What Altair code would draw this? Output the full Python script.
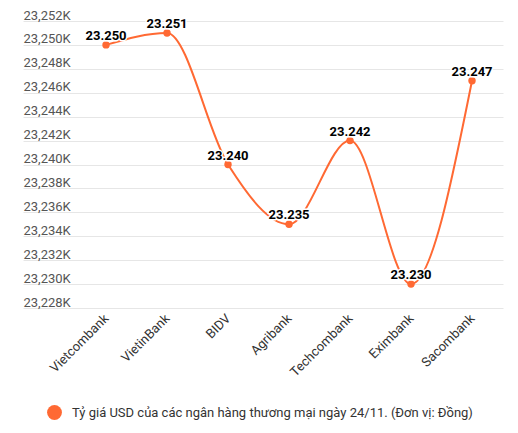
import altair as alt
import pandas as pd

banks = ["Vietcombank", "VietinBank", "BIDV", "Agribank", "Techcombank", "Eximbank", "Sacombank"]
rates = [23250, 23251, 23240, 23235, 23242, 23230, 23247]
series_name = "Tỷ giá USD của các ngân hàng thương mại ngày 24/11. (Đơn vị: Đồng)"
y_ticks = list(range(23228, 23253, 2))

df = pd.DataFrame({
    "idx": list(range(len(banks))),
    "bank": banks,
    "rate": rates,
    "series": [series_name] * len(banks),
})

ORANGE = "#ff6933"
FONT = "Roboto"

bank_lookup = "[" + ",".join("'" + b + "'" for b in banks) + "]"

x = alt.X(
    "idx:Q",
    scale=alt.Scale(domain=[-1.361, 6.508], nice=False, zero=False),
    axis=alt.Axis(
        values=list(range(len(banks))),
        labelExpr=bank_lookup + "[datum.value]",
        labelAngle=-45,
        labelAlign="right",
        labelBaseline="middle",
        labelPadding=8,
        labelFontSize=13,
        labelColor="#333333",
        labelFont=FONT,
        labelOverlap=False,
        labelBound=False,
        ticks=False,
        domain=False,
        grid=False,
        title=None,
    ),
)
y = alt.Y(
    "rate:Q",
    scale=alt.Scale(domain=[23228, 23252], nice=False, zero=False),
    axis=alt.Axis(
        values=y_ticks,
        labelExpr="format(datum.value, ',') + 'K'",
        labelAlign="left",
        labelBaseline="alphabetic",
        labelPadding=0,
        labelOffset=-2,
        tickSize=0,
        ticks=False,
        domain=False,
        grid=True,
        gridColor="#e6e6e6",
        gridWidth=1,
        labelFontSize=13,
        labelColor="#555555",
        labelFont=FONT,
        labelOverlap=False,
        labelBound=False,
        labelFlush=False,
        title=None,
    ),
)

color = alt.Color(
    "series:N",
    scale=alt.Scale(range=[ORANGE]),
    legend=alt.Legend(
        title=None,
        orient="none",
        legendX=24,
        legendY=384,
        symbolType="circle",
        symbolSize=220,
        symbolStrokeWidth=0,
        labelFontSize=13,
        labelFont=FONT,
        labelColor="#333333",
        labelLimit=600,
        padding=0,
        labelOffset=10,
    ),
)

base = alt.Chart(df).encode(x=x, y=y)

line = base.mark_line(interpolate="monotone", strokeWidth=2, color=ORANGE)
points = base.mark_circle(size=55, opacity=1).encode(color=color)

labels_df = base.transform_calculate(lbl="replace(format(datum.rate, ','), ',', '.')")
halo = labels_df.mark_text(
    dy=-5, baseline="alphabetic", fontSize=13, fontWeight="bold", font=FONT,
    stroke="white", strokeWidth=3, strokeJoin="round", fill="white",
).encode(text="lbl:N")
text = labels_df.mark_text(
    dy=-5, baseline="alphabetic", fontSize=13, fontWeight="bold", font=FONT, color="#000000",
).encode(text="lbl:N")

chart = (
    alt.layer(line, points, halo, text)
    .properties(
        width=480,
        height=287,
        autosize=alt.AutoSizeParams(type="none"),
        padding={"left": 15, "top": 13, "right": 7, "bottom": 113},
        background="white",
    )
    .configure_view(stroke=None)
)

chart.save("out.html", embed_options={"renderer": "svg", "actions": False})
